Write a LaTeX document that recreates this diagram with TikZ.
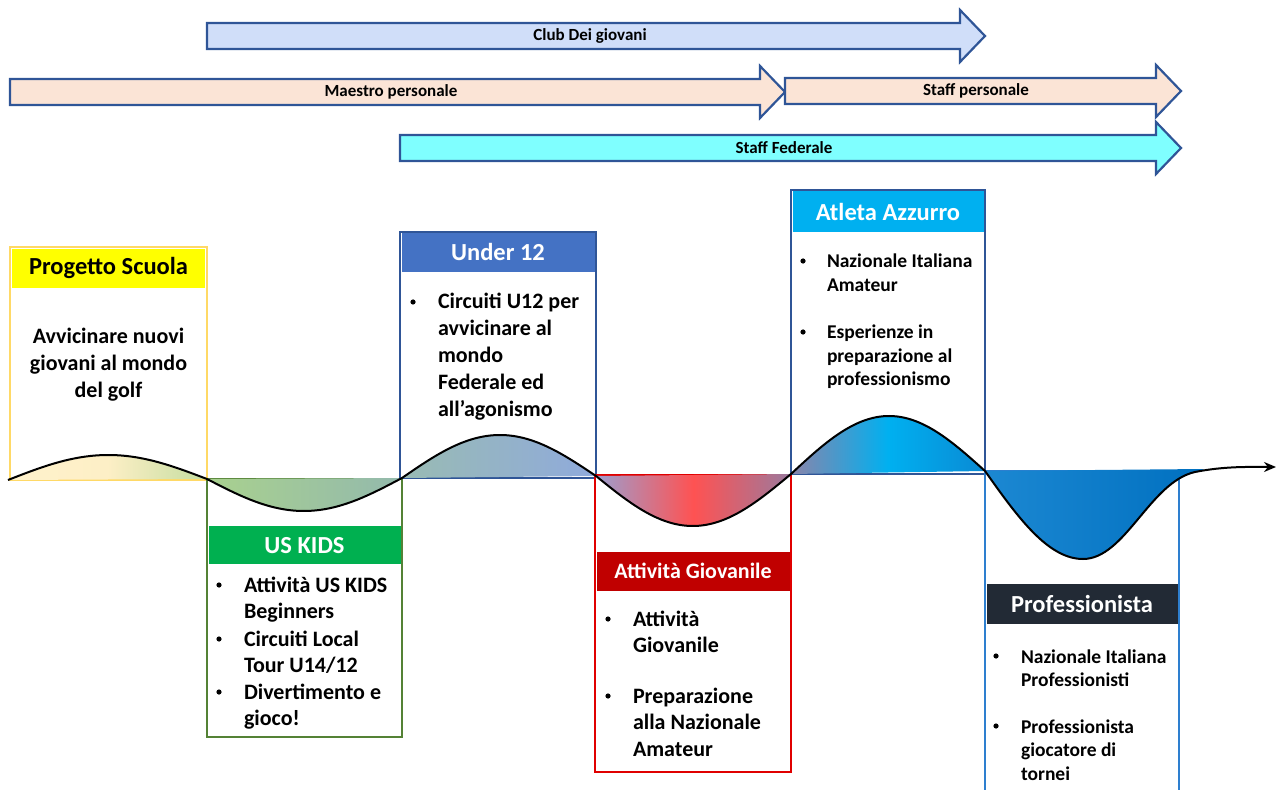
\documentclass[tikz,border=0pt]{standalone}
\usepackage{fontspec}
\setmainfont{Carlito}
\usetikzlibrary{fit,arrows.meta}
\definecolor{bandline}{HTML}{2F5597}
\definecolor{clubfill}{HTML}{D0DEF9}
\definecolor{maestrofill}{HTML}{FBE4D6}
\definecolor{fedfill}{HTML}{7FFFFF}
\definecolor{psborder}{HTML}{FFD966}
\definecolor{pshead}{HTML}{FFFF00}
\definecolor{ukborder}{HTML}{548235}
\definecolor{ukhead}{HTML}{00B050}
\definecolor{u12border}{HTML}{2F5597}
\definecolor{u12head}{HTML}{4472C4}
\definecolor{agborder}{HTML}{E00000}
\definecolor{aghead}{HTML}{C00000}
\definecolor{aaborder}{HTML}{2F5597}
\definecolor{aahead}{HTML}{00B0F0}
\definecolor{prborder}{HTML}{2E7FCF}
\definecolor{prhead}{HTML}{222A35}
\definecolor{s1l}{HTML}{FFF2CC}
\definecolor{s1m}{HTML}{FDEFC6}
\definecolor{s1r}{HTML}{C4DDA0}
\definecolor{s2l}{HTML}{A9D18E}
\definecolor{s2r}{HTML}{93B9AD}
\definecolor{s3l}{HTML}{99BBB3}
\definecolor{s3r}{HTML}{8FAADC}
\definecolor{s4l}{HTML}{9C9ECF}
\definecolor{s4m}{HTML}{FF5252}
\definecolor{s4r}{HTML}{9A7A9E}
\definecolor{s5l}{HTML}{8A84AA}
\definecolor{s5m}{HTML}{00B0F0}
\definecolor{s5r}{HTML}{0A8AD4}
\definecolor{s6l}{HTML}{1C88D2}
\definecolor{s6r}{HTML}{0070C0}
\begin{document}
\begin{tikzpicture}[x=0.5pt,y=-0.5pt,
  every node/.style={inner sep=0pt, outer sep=0pt},
  box/.style={draw, line width=1pt, fill=white},
  ttl/.style={font=\bfseries\fontsize{12.25}{14}\selectfont, anchor=base},
  body/.style={font=\bfseries\fontsize{11}{13.4}\selectfont, anchor=base west, align=left},
  bodys/.style={font=\bfseries\fontsize{9.75}{11.75}\selectfont, anchor=base west, align=left},
  dot/.style={circle, fill=black, minimum size=2.6pt},
  band/.style={draw=bandline, line width=1.1pt},
  blabel/.style={font=\bfseries\fontsize{8.5}{10}\selectfont},
  wave/.style={line width=1pt, draw=black}
]
\useasboundingbox (0,0) rectangle (1277,790);

% ---- top bands ----
\draw[band, fill=clubfill] (207,23) -- (960,23) -- (960,10) -- (985,36) -- (960,62) -- (960,49) -- (207,49) -- cycle;
\node[blabel] (club) at (590,36) {Club Dei giovani};
\draw[band, fill=maestrofill] (10,79) -- (760,79) -- (760,66) -- (785,92) -- (760,118) -- (760,105) -- (10,105) -- cycle;
\node[blabel] (maestro) at (391,92) {Maestro personale};
\draw[band, fill=maestrofill] (785,78) -- (1156,78) -- (1156,65) -- (1181,91) -- (1156,117) -- (1156,104) -- (785,104) -- cycle;
\node[blabel] (staffp) at (976,91) {Staff personale};
\draw[band, fill=fedfill] (400,135) -- (1156,135) -- (1156,122) -- (1181,148) -- (1156,174) -- (1156,161) -- (400,161) -- cycle;
\node[blabel] (staffF) at (784,148) {Staff Federale};

% ---- boxes ----
\node[box, draw=psborder, fit={(10,247)(207,480)}] (ps) {};
\node[fill=pshead, fit={(12,249)(205,288)}] (psh) {};
\node[ttl] (pst) at (108.5,275) {Progetto Scuola};
\node[body, anchor=base, align=center] (psb) at (108.5,397.6) {Avvicinare nuovi\\giovani al mondo\\del golf};

\node[box, draw=ukborder, fit={(207,479)(402,737)}] (uk) {};
\node[fill=ukhead, fit={(208.5,526)(400.5,564)}] (ukh) {};
\node[ttl, text=white] (ukt) at (304.5,553) {US KIDS};
\node[dot] (uk1b) at (219,585) {};
\node[body] (uk1) at (244,618.8) {Attività US KIDS\\Beginners};
\node[dot] (uk2b) at (219,639) {};
\node[body] (uk2) at (244,672.8) {Circuiti Local\\Tour U14/12};
\node[dot] (uk3b) at (219,692) {};
\node[body] (uk3) at (244,725.8) {Divertimento e\\gioco!};

\node[box, draw=u12border, fit={(400,232)(596,478)}] (u12) {};
\node[fill=u12head, fit={(401.5,233.5)(594.5,272)}] (u12h) {};
\node[ttl, text=white] (u12t) at (498,261) {Under 12};
\node[dot] (u121b) at (413,302) {};
\node[body] (u121) at (438,416.2) {Circuiti U12 per\\avvicinare al\\mondo\\Federale ed\\all’agonismo};

\node[box, draw=agborder, fit={(595,475)(791,772)}] (ag) {};
\node[fill=aghead, fit={(596.5,552)(789.5,591)}] (agh) {};
\node[font=\bfseries\fontsize{11}{13}\selectfont, anchor=base, text=white] (agt) at (693,578) {Attività Giovanile};
\node[dot] (ag1b) at (608,619) {};
\node[body] (ag1) at (633,652.8) {Attività\\Giovanile};
\node[dot] (ag2b) at (608,696) {};
\node[body] (ag2) at (633,756.6) {Preparazione\\alla Nazionale\\Amateur};

\node[box, draw=aaborder, fit={(791,190)(985,474)}] (aa) {};
\node[fill=aahead, fit={(792.5,191.5)(983.5,232)}] (aah) {};
\node[ttl, text=white] (aat) at (888,221) {Atleta Azzurro};
\node[dot] (aa1b) at (803,261) {};
\node[bodys] (aa1) at (827,291.5) {Nazionale Italiana\\Amateur};
\node[dot] (aa2b) at (803,332) {};
\node[bodys] (aa2) at (827,386) {Esperienze in\\preparazione al\\professionismo};

\node[box, draw=prborder, fit={(985,471)(1179,805)}] (pr) {};
\node[fill=prhead, fit={(986.5,584)(1177.5,624)}] (prh) {};
\node[ttl, text=white] (prt) at (1082,612) {Professionista};
\node[dot] (pr1b) at (996,656) {};
\node[bodys] (pr1) at (1021,686.5) {Nazionale Italiana\\Professionisti};
\node[dot] (pr2b) at (996,726) {};
\node[bodys] (pr2) at (1021,780) {Professionista\\giocatore di\\tornei};

% ---- wave fills ----
\shade[left color=s1l, right color=s1r, middle color=s1m] plot[domain=0:180,samples=60] ({8+\x/180*199},{480-\x/180-24.5*sin(\x)}) -- cycle;
\shade[left color=s2l, right color=s2r] plot[domain=0:180,samples=60] ({207+\x/180*195},{479-\x/180+32.5*sin(\x)}) -- cycle;
\shade[left color=s3l, right color=s3r] plot[domain=0:180,samples=60] ({402+\x/180*194},{478-\x/90-42*sin(\x)}) -- cycle;
\shade[left color=s4l, right color=s4r, middle color=s4m] plot[domain=0:180,samples=60] ({596+\x/180*195},{476-\x/90+51*sin(\x)}) -- cycle;
\shade[left color=s5l, right color=s5r, middle color=s5m] plot[domain=0:180,samples=60] ({791+\x/180*194},{474-\x/60-56.5*sin(\x)}) -- cycle;
\shade[left color=s6l, right color=s6r] plot[domain=0:90,samples=40] ({985+\x/90*98},{471+88*sin(\x)}) .. controls (1125,559) and (1150,482) .. (1195,472) -- (1205,469) -- cycle;

% ---- wave line ----
\coordinate (waveend) at (1276,467);
\draw[wave, -{Stealth[length=6pt,width=5pt]}]
  plot[domain=0:180,samples=60] ({8+\x/180*199},{480-\x/180-24.5*sin(\x)})
  -- plot[domain=0:180,samples=60] ({207+\x/180*195},{479-\x/180+32.5*sin(\x)})
  -- plot[domain=0:180,samples=60] ({402+\x/180*194},{478-\x/90-42*sin(\x)})
  -- plot[domain=0:180,samples=60] ({596+\x/180*195},{476-\x/90+51*sin(\x)})
  -- plot[domain=0:180,samples=60] ({791+\x/180*194},{474-\x/60-56.5*sin(\x)})
  -- plot[domain=0:90,samples=40] ({985+\x/90*98},{471+88*sin(\x)})
  .. controls (1125,559) and (1150,482) .. (1195,472)
  .. controls (1225,466) and (1250,467) .. (waveend);
\end{tikzpicture}
\end{document}
